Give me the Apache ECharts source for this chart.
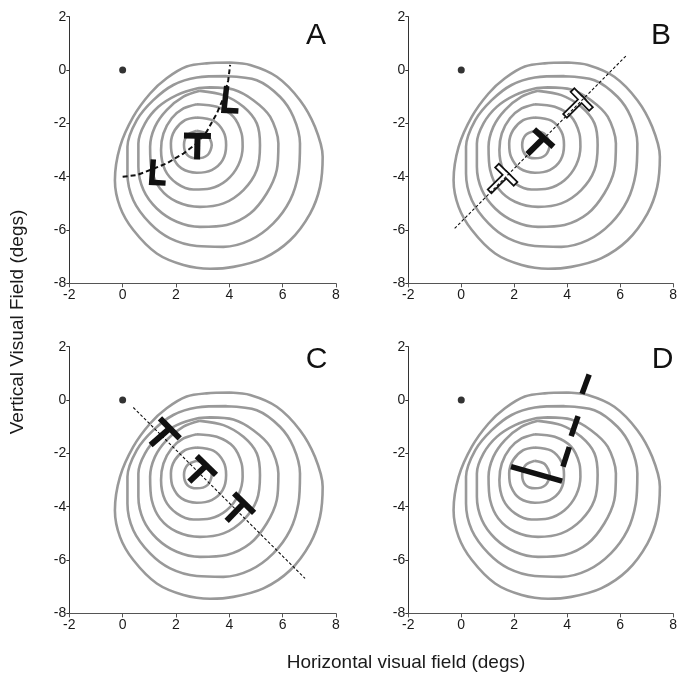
<!DOCTYPE html>
<html>
<head>
<meta charset="utf-8">
<title>Visual field</title>
<script src="https://cdn.jsdelivr.net/npm/echarts@6/dist/echarts.min.js"></script>
<style>
  html, body { margin: 0; padding: 0; background: #fff; }
  #main { width: 680px; height: 677px; }
</style>
</head>
<body>
<div id="main"></div>
<script>
// contour rings (same map in all four panels), innermost first
var contour1 = [[2.78,-2.28],[3.15,-2.4],[3.34,-2.81],[3.18,-3.19],[2.78,-3.31],[2.43,-3.19],[2.3,-2.81],[2.43,-2.44]];
var contour2 = [[2.78,-1.78],[3.4,-1.9],[3.78,-2.31],[3.88,-2.81],[3.75,-3.38],[3.34,-3.75],[2.78,-3.85],[2.21,-3.69],[1.88,-3.25],[1.81,-2.75],[1.96,-2.25],[2.34,-1.88]];
var contour3 = [[2.78,-1.28],[3.53,-1.38],[4.15,-1.75],[4.46,-2.38],[4.5,-2.88],[4.34,-3.56],[3.9,-4.13],[3.28,-4.44],[2.65,-4.48],[2.03,-4.25],[1.59,-3.75],[1.44,-3.0],[1.53,-2.38],[1.84,-1.81],[2.28,-1.44]];
var contour4 = [[2.9,-0.78],[3.78,-0.94],[4.53,-1.38],[5.03,-2.0],[5.15,-2.81],[5.03,-3.75],[4.53,-4.5],[3.78,-5.0],[2.9,-5.13],[2.03,-4.94],[1.4,-4.44],[1.09,-3.75],[1.03,-2.88],[1.21,-2.13],[1.65,-1.5],[2.28,-1.0]];
var contour5 = [[3.28,-0.65],[4.15,-0.73],[4.9,-1.13],[5.53,-1.75],[5.84,-2.75],[5.78,-3.75],[5.4,-4.63],[4.78,-5.38],[3.9,-5.81],[2.9,-5.88],[2.03,-5.69],[1.28,-5.19],[0.78,-4.5],[0.59,-3.63],[0.59,-2.75],[0.84,-2.0],[1.34,-1.38],[2.03,-0.94],[2.78,-0.69]];
var contour6 = [[3.9,-0.23],[5.03,-0.38],[5.9,-1.0],[6.4,-1.75],[6.65,-2.75],[6.59,-3.88],[6.28,-4.88],[5.65,-5.75],[4.78,-6.38],[3.78,-6.63],[2.78,-6.6],[1.78,-6.31],[1.03,-5.75],[0.4,-4.88],[0.18,-3.88],[0.18,-2.88],[0.53,-1.88],[1.15,-1.13],[1.9,-0.56],[2.78,-0.28]];
var contour7 = [[4.03,0.28],[4.78,0.19],[5.78,-0.25],[6.65,-1.13],[7.21,-2.13],[7.5,-3.25],[7.4,-4.38],[7.03,-5.38],[6.28,-6.38],[5.28,-7.06],[4.15,-7.38],[3.28,-7.45],[2.28,-7.31],[1.28,-6.88],[0.4,-6.0],[-0.1,-5.13],[-0.29,-4.13],[-0.1,-2.88],[0.4,-1.75],[1.03,-0.88],[1.65,-0.31],[2.4,0.13],[3.15,0.25]];
var contours = [contour1, contour2, contour3, contour4, contour5, contour6, contour7];

var fixation = [[0, 0]];
var panelLetters = ['A', 'B', 'C', 'D'];

// panel A: dashed arc, T and two L's
var arcA = [[0,-4.0],[0.53,-3.94],[1.03,-3.75],[1.65,-3.5],[2.28,-3.13],[2.78,-2.75],[3.15,-2.31],[3.53,-1.63],[3.8,-1.0],[3.96,-0.38],[4.03,0.19]];
var strokesA = [
  [[2.3,-2.45],[3.31,-2.47]],
  [[2.81,-2.46],[2.79,-3.35]],
  [[3.9,-0.6],[3.8,-1.51],[4.34,-1.54]],
  [[1.15,-3.35],[1.09,-4.21],[1.61,-4.24]]
];
// panel B: dashed line, solid T, two hollow T's
var lineB = [[-0.25,-5.94],[6.25,0.56]];
var strokesB = [
  [[2.75,-2.23],[3.48,-2.88]],
  [[3.11,-2.55],[2.5,-3.15]]
];
var hollowB = [
  [[4.27,-0.82],[4.83,-1.39]],
  [[4.55,-1.1],[3.99,-1.65]],
  [[1.42,-3.65],[1.98,-4.2]],
  [[1.7,-3.93],[1.14,-4.48]]
];
// panel C: dashed line and three T's
var lineC = [[0.4,-0.28],[6.84,-6.69]];
var strokesC = [
  [[1.4,-0.69],[2.14,-1.44]], [[1.77,-1.06],[1.05,-1.69]],
  [[2.78,-2.1],[3.5,-2.81]],  [[3.14,-2.45],[2.5,-3.06]],
  [[4.18,-3.5],[4.93,-4.23]], [[4.55,-3.86],[3.9,-4.53]]
];
// panel D: long bar and three segments
var strokesD = [
  [[1.88,-2.5],[3.81,-3.04]],
  [[3.84,-2.5],[4.08,-1.76]],
  [[4.15,-1.35],[4.41,-0.6]],
  [[4.56,0.23],[4.83,0.96]]
];

var chart = echarts.init(document.getElementById('main'));
var FONT = '"Liberation Sans", Arial, Helvetica, sans-serif';
var lefts = [69.3, 408.3, 69.3, 408.3];
var tops = [16.7, 16.7, 346.7, 346.7];

var grids = [], xAxes = [], yAxes = [], series = [];

function ln(i, pts, style, extra) {
  var s = {
    type: 'line', xAxisIndex: i, yAxisIndex: i, data: pts,
    symbol: 'none', silent: true, lineStyle: style
  };
  if (extra) for (var k in extra) s[k] = extra[k];
  return s;
}

for (var i = 0; i < 4; i++) {
  grids.push({ left: lefts[i], top: tops[i], width: 266.7, height: 266.7 });
  xAxes.push({
    type: 'value', gridIndex: i, min: -2, max: 8, interval: 2,
    splitLine: { show: false },
    axisLine: { onZero: false, lineStyle: { color: '#555', width: 1 } },
    axisTick: { length: 4, lineStyle: { color: '#555' } },
    axisLabel: { margin: 5, fontSize: 14, color: '#1a1a1a', fontFamily: FONT }
  });
  yAxes.push({
    type: 'value', gridIndex: i, min: -8, max: 2, interval: 2,
    splitLine: { show: false },
    axisLine: { show: true, onZero: false, lineStyle: { color: '#333', width: 1 } },
    axisTick: { show: true, length: 3, lineStyle: { color: '#333' } },
    axisLabel: { margin: 3, fontSize: 14, color: '#1a1a1a', fontFamily: FONT }
  });
  contours.forEach(function (c) {
    series.push(ln(i, c.concat([c[0]]), { color: '#999', width: 2.6 }, { smooth: 0.3 }));
  });
  series.push({
    type: 'scatter', xAxisIndex: i, yAxisIndex: i, data: fixation,
    symbolSize: 7, itemStyle: { color: '#000' }, silent: true
  });
}

var solid = { color: '#111', width: 6, cap: 'butt', join: 'miter' };

// A
series.push(ln(0, arcA, { color: '#111', width: 2, type: [5, 3] }));
strokesA.forEach(function (s, k) {
  series.push(ln(0, s, { color: '#111', width: k < 2 ? 6 : 5.5, cap: 'butt', join: 'miter' }));
});
// B
hollowB.forEach(function (s) {
  series.push(ln(1, s, { color: '#111', width: 7, cap: 'square' }));
});
hollowB.forEach(function (s) {
  series.push(ln(1, s, { color: '#fff', width: 3.5, cap: 'square' }));
});
strokesB.forEach(function (s) { series.push(ln(1, s, solid)); });
series.push(ln(1, lineB, { color: '#111', width: 1.1, type: [3, 2] }));
// C
series.push(ln(2, lineC, { color: '#111', width: 1.1, type: [3, 2] }));
strokesC.forEach(function (s) { series.push(ln(2, s, solid)); });
// D
strokesD.forEach(function (s) { series.push(ln(3, s, { color: '#111', width: 5.5, cap: 'butt' })); });

var letterPos = [[316, 36], [661, 36], [316.5, 360], [662.5, 360]];
var graphics = panelLetters.map(function (t, k) {
  return {
    type: 'text', x: letterPos[k][0], y: letterPos[k][1],
    style: { text: t, fontSize: 30, fontFamily: FONT, fill: '#111', align: 'center', verticalAlign: 'middle' }
  };
});
graphics.push({
  type: 'text', x: 18, y: 322, rotation: Math.PI / 2,
  style: { text: 'Vertical Visual Field (degs)', fontSize: 19, fontFamily: FONT, fill: '#1a1a1a', align: 'center', verticalAlign: 'middle' }
});
graphics.push({
  type: 'text', x: 406, y: 663,
  style: { text: 'Horizontal visual field (degs)', fontSize: 19, fontFamily: FONT, fill: '#1a1a1a', align: 'center', verticalAlign: 'middle' }
});

chart.setOption({
  animation: false,
  backgroundColor: '#fff',
  grid: grids,
  xAxis: xAxes,
  yAxis: yAxes,
  series: series,
  graphic: graphics
});

window.onresize = function () { chart.resize(); };
</script>
</body>
</html>
